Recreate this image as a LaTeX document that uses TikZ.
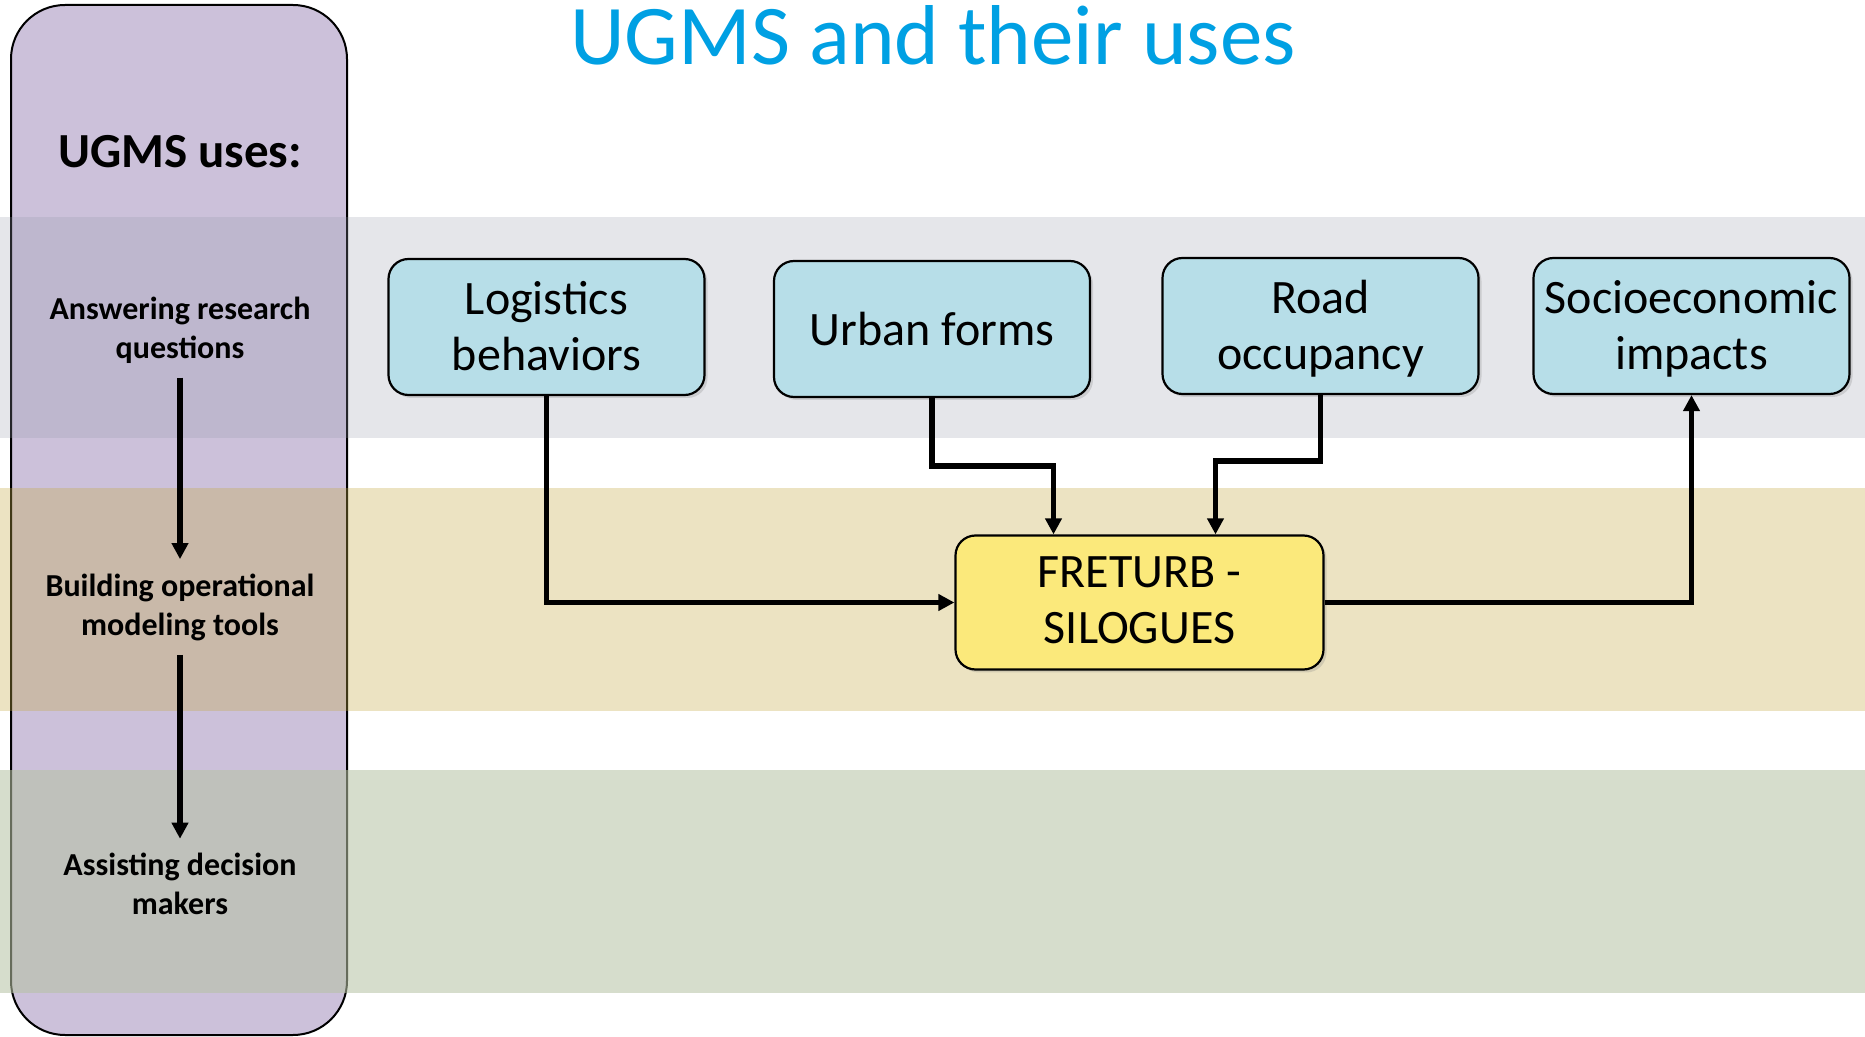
\documentclass[tikz,border=0pt]{standalone}
\usepackage{fontspec}
\setmainfont{Carlito}
\usepackage{tikz}
\usetikzlibrary{arrows.meta, positioning, shadows}
\definecolor{usepurple}{RGB}{204,193,218}
\definecolor{bandgray}{RGB}{151,155,171}
\definecolor{bandtan}{RGB}{197,170,70}
\definecolor{bandgreen}{RGB}{182,194,164}
\definecolor{factorblue}{RGB}{183,222,232}
\definecolor{modelyellow}{RGB}{251,233,123}
\definecolor{titleblue}{RGB}{0,160,227}

\begin{document}
\begin{tikzpicture}[
    x=0.5pt, y=-0.5pt,
    factor/.style={draw, line width=1.1pt, rounded corners=10pt, fill=factorblue, minimum width=158pt, minimum height=68pt, inner sep=2pt, align=center, font=\fontsize{24}{28}\selectfont, text height=52pt, text depth=8.4pt, drop shadow={shadow xshift=1.5pt, shadow yshift=-1.5pt, opacity=0.25}},
    model/.style={factor, fill=modelyellow, minimum width=184pt, minimum height=67pt, text height=49pt},
    uselbl/.style={align=center, inner sep=2pt, font=\fontsize{16}{19.5}\selectfont\bfseries},
    usehead/.style={font=\fontsize{24.5}{28}\selectfont\bfseries},
    arr/.style={-{Triangle[length=8pt, width=8pt]}, line width=2.7pt}
]
\useasboundingbox (0,0) rectangle (1865,1037);
\filldraw[fill=usepurple, line width=1pt, rounded corners=27pt] (11,5) rectangle (347,1035);
\fill[bandgray, opacity=0.25] (0,217) rectangle (1865,438);
\fill[bandtan, opacity=0.33] (0,488) rectangle (1865,711);
\fill[bandgreen, opacity=0.56] (0,770) rectangle (1865,993);

\node[anchor=base, text=titleblue, font=\fontsize{42.5}{50}\selectfont] (title) at (933,65) {UGMS and their uses};

\node[usehead] (head) at (180,152) {UGMS uses:};
\node[uselbl] (ans) at (180,330) {Answering research\\questions};
\node[uselbl] (build) at (180,607) {Building operational\\modeling tools};
\node[uselbl] (assist) at (180,884) {Assisting decision\\makers};
\draw[arr, shorten <=5pt, shorten >=5pt] (ans) -- (build);
\draw[arr, shorten <=5pt, shorten >=5pt] (build) -- (assist);

\node[factor] (logi) at (546.5,327) {Logistics\\behaviors};
\node[factor, text height=24.5pt] (urb) at (932,329) {Urban forms};
\node[factor] (road) at (1320.5,326) {Road\\occupancy};
\node[factor] (socio) at (1691.5,326) {Socioeconomic\\impacts};
\node[model] (fret) at (1139.5,602.5) {FRETURB -\\SILOGUES};

\draw[arr] (logi.south) |- (fret.west);
\draw[arr] (urb.south) -- ++(0,68) -| ([xshift=-43pt]fret.north);
\draw[arr] (road.south) -- ++(0,66) -| ([xshift=38pt]fret.north);
\draw[arr] (fret.east) -| (socio.south);
\end{tikzpicture}
\end{document}
